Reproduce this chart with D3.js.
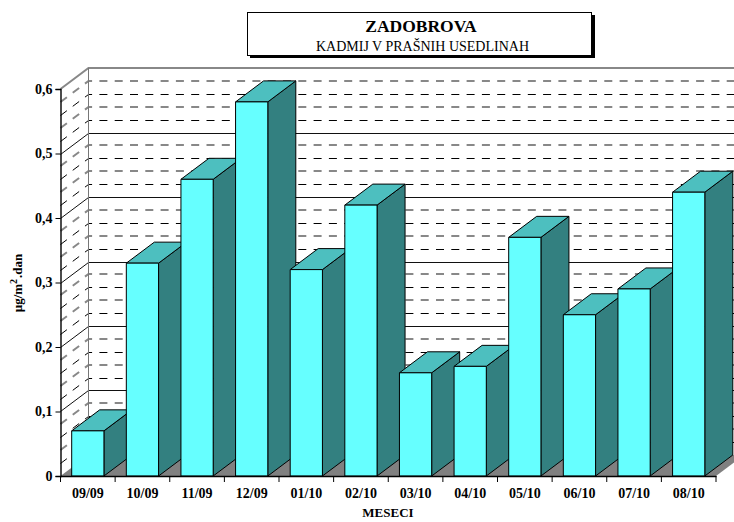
<!DOCTYPE html>
<html>
<head>
<meta charset="utf-8">
<script src="https://cdn.jsdelivr.net/npm/d3@7"></script>
<style>
  body { margin: 0; background: #fff; }
  svg { display: block; }
  text { font-family: "Liberation Serif", serif; fill: #000; }
</style>
</head>
<body>
<div id="chart"></div>
<script>
// data
const months = ["09/09", "10/09", "11/09", "12/09", "01/10", "02/10", "03/10", "04/10", "05/10", "06/10", "07/10", "08/10"];
const values = [0.07, 0.33, 0.46, 0.58, 0.32, 0.42, 0.16, 0.17, 0.37, 0.25, 0.29, 0.44];
const majorTicks = [0, 0.1, 0.2, 0.3, 0.4, 0.5, 0.6];
const minorTicks = [0.02, 0.04, 0.06, 0.08, 0.12, 0.14, 0.16, 0.18, 0.22, 0.24, 0.26, 0.28,
                    0.32, 0.34, 0.36, 0.38, 0.42, 0.44, 0.46, 0.48, 0.52, 0.54, 0.56, 0.58];

const width = 734;
const height = 522;
const depthX = 28;
const depthY = 21;
const plot = {left: 60.5, right: 716, top: 89, bottom: 476};

const svg = d3.select("#chart").append("svg")
  .attr("width", width)
  .attr("height", height);

const x = d3.scaleBand()
  .domain(months)
  .range([plot.left, plot.right])
  .paddingInner(0.41)
  .paddingOuter(0.205);

const y = d3.scaleLinear()
  .domain([0, 0.6])
  .range([plot.bottom, plot.top]);

// floor
svg.append("polygon")
  .attr("points", [
    [plot.left, plot.bottom],
    [plot.left + depthX, plot.bottom - depthY],
    [plot.right + depthX, plot.bottom - depthY],
    [plot.right, plot.bottom]
  ].join(" "))
  .attr("fill", "#808080");

// grid lines, back wall + left wall
const grid = svg.append("g").attr("fill", "none");

// the dashes alternate sharp black / blurred grey in the original, snap them to pixels
const wallPath = (d, snap) => {
  const wy = Math.round(y(d) - depthY) + snap;
  return `M${plot.left},${wy + depthY}L${plot.left + depthX},${wy}L${width},${wy}`;
};

grid.selectAll(".minor")
  .data(minorTicks)
  .enter()
  .append("path")
    .attr("class", "minor")
    .attr("d", (d, i) => wallPath(d, i % 2 == 0 ? 0.5 : 0))
    .attr("stroke", (d, i) => i % 2 == 0 ? "#000" : "#888")
    .attr("stroke-width", (d, i) => i % 2 == 0 ? 1 : 2)
    .attr("stroke-dasharray", "8 7.3");

grid.selectAll(".major")
  .data(majorTicks.filter(d => d > 0))
  .enter()
  .append("path")
    .attr("class", "major")
    .attr("d", d => wallPath(d, d == 0.6 ? 0 : 0.5))
    .attr("stroke", d => d == 0.6 ? "#888" : "#111")
    .attr("stroke-width", d => d == 0.6 ? 2 : 1);

// back wall left edge
grid.append("line")
  .attr("x1", plot.left + depthX).attr("x2", plot.left + depthX)
  .attr("y1", y(0.6) - depthY).attr("y2", plot.bottom - depthY)
  .attr("stroke", "#777");

// bars, left to right so each one covers the side of the one before
const bars = svg.selectAll(".bar")
  .data(values)
  .enter()
  .append("g")
    .attr("class", "bar")
    .attr("stroke", "#000")
    .attr("stroke-width", 1)
    .attr("stroke-linejoin", "round");

bars.append("polygon")
  .attr("fill", "#338080")
  .attr("points", (d, i) => {
    const r = x(months[i]) + x.bandwidth();
    return [[r, y(d)], [r + depthX, y(d) - depthY], [r + depthX, plot.bottom - depthY], [r, plot.bottom]].join(" ");
  });

bars.append("polygon")
  .attr("fill", "#4DBFBF")
  .attr("points", (d, i) => {
    const l = x(months[i]);
    const r = l + x.bandwidth();
    return [[l, y(d)], [l + depthX, y(d) - depthY], [r + depthX, y(d) - depthY], [r, y(d)]].join(" ");
  });

bars.append("rect")
  .attr("fill", "#66FFFF")
  .attr("x", (d, i) => x(months[i]))
  .attr("y", d => y(d))
  .attr("width", x.bandwidth())
  .attr("height", d => plot.bottom - y(d));

// y axis
const yAxis = svg.append("g")
  .attr("transform", `translate(${plot.left},0)`)
  .call(d3.axisLeft(y)
    .tickValues(majorTicks)
    .tickSize(5)
    .tickPadding(3)
    .tickFormat(d => d == 0 ? "0" : d3.format(".1f")(d).replace(".", ",")));
yAxis.selectAll("text")
  .attr("font-size", 14)
  .attr("font-weight", "bold")
  .attr("font-family", "Liberation Serif");
yAxis.select(".domain").attr("stroke-width", 1.4);

// x axis, labels under the categories and ticks on the category borders
const xAxis = svg.append("g")
  .attr("transform", `translate(0,${plot.bottom})`)
  .call(d3.axisBottom(x).tickSize(0).tickPadding(12));
xAxis.selectAll("text")
  .attr("font-size", 14)
  .attr("font-weight", "bold")
  .attr("font-family", "Liberation Serif");
xAxis.select(".domain").attr("stroke", "#000").attr("stroke-width", 1.4);

xAxis.selectAll(".border")
  .data(d3.range(months.length + 1))
  .enter()
  .append("line")
    .attr("class", "border")
    .attr("x1", i => plot.left + i * x.step())
    .attr("x2", i => plot.left + i * x.step())
    .attr("y1", 0)
    .attr("y2", 6)
    .attr("stroke", "#000");

// axis titles
svg.append("text")
  .attr("x", 388)
  .attr("y", 517)
  .attr("text-anchor", "middle")
  .attr("font-size", 13)
  .attr("font-weight", "bold")
  .text("MESECI");

const yTitle = svg.append("text")
  .attr("transform", "translate(22,283) rotate(-90)")
  .attr("text-anchor", "middle")
  .attr("font-size", 13)
  .attr("font-weight", "bold");
yTitle.append("tspan").text("µg/m");
yTitle.append("tspan").attr("dy", -5).attr("font-size", 10).text("2");
yTitle.append("tspan").attr("dy", 5).attr("dx", 1).text(".dan");

// title box with shadow
svg.append("rect")
  .attr("x", 250).attr("y", 15)
  .attr("width", 345).attr("height", 43)
  .attr("fill", "#000");
svg.append("rect")
  .attr("x", 247.5).attr("y", 12.5)
  .attr("width", 344).attr("height", 43)
  .attr("fill", "#fff")
  .attr("stroke", "#000");

svg.append("text")
  .attr("x", 421)
  .attr("y", 32)
  .attr("text-anchor", "middle")
  .attr("font-size", 17.5)
  .attr("font-weight", "bold")
  .text("ZADOBROVA");

svg.append("text")
  .attr("x", 422.5)
  .attr("y", 50.5)
  .attr("text-anchor", "middle")
  .attr("font-size", 14)
  .text("KADMIJ V PRAŠNIH USEDLINAH");
</script>
</body>
</html>
